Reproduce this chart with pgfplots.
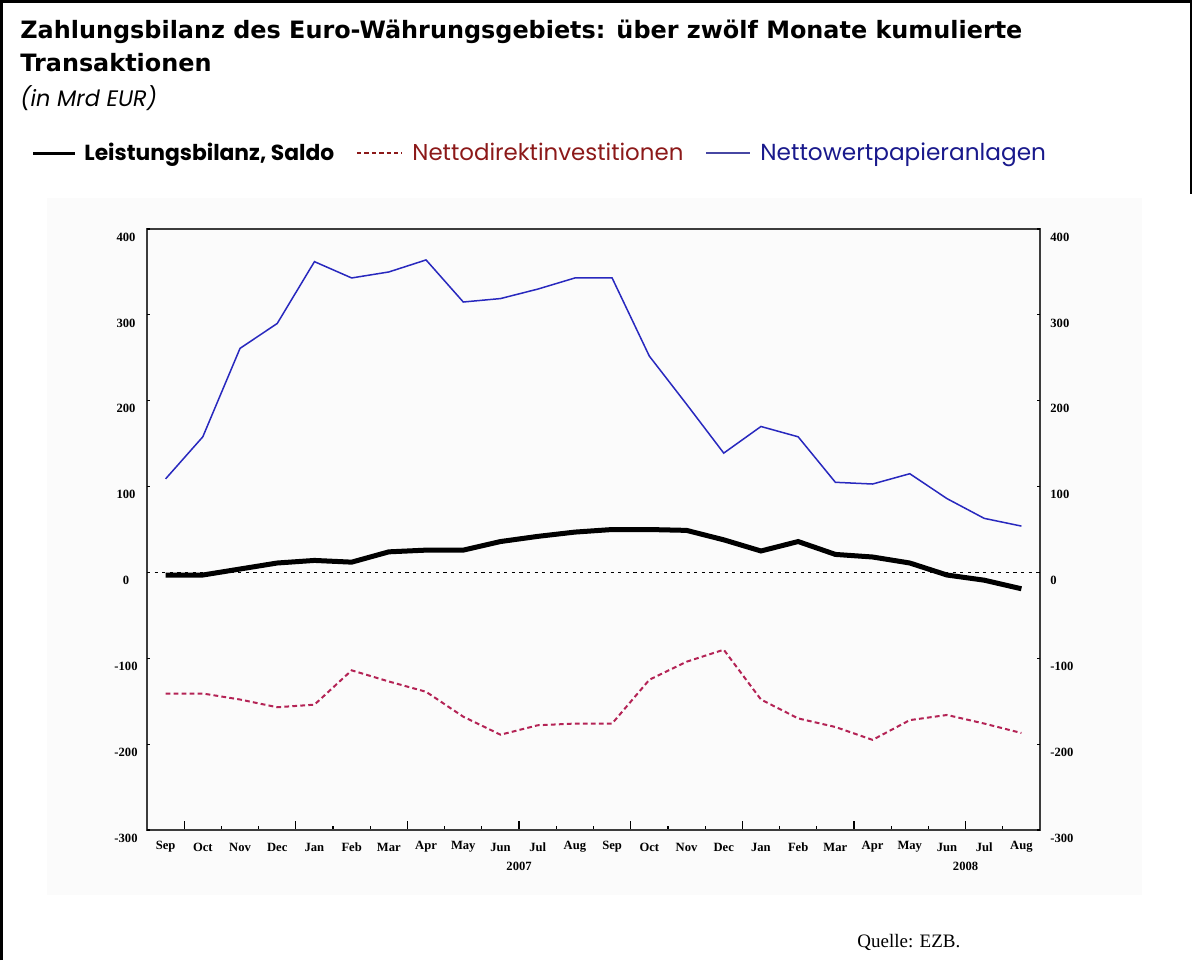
\documentclass[border=0pt]{standalone}
\usepackage{pgfplots}
\pgfplotsset{compat=1.18}
\usepackage{pgfplotstable}
\usepackage{fontspec}
\setmainfont{Liberation Serif}
\newfontfamily\titlefont{DejaVu Sans}
\newfontfamily\legfont{Poppins}

\definecolor{cablue}{RGB}{40,40,190}
\definecolor{cared}{RGB}{180,35,85}
\definecolor{legred}{RGB}{140,25,25}
\definecolor{legblue}{RGB}{25,25,140}
\definecolor{frame}{RGB}{60,60,60}
\definecolor{bgpanel}{RGB}{251,251,251}

\pgfplotstableread{
i blue black red
0 109 -3 -141
1 158 -3 -141
2 261 4 -148
3 290 11 -157
4 362 14 -154
5 343 12 -114
6 350 24 -127
7 364 26 -139
8 315 26 -168
9 319 36 -189
10 330 42 -178
11 343 47 -176
12 343 50 -176
13 252 50 -125
14 196 49 -104
15 139 38 -90
16 170 25 -148
17 158 36 -170
18 105 21 -180
19 103 18 -195
20 115 11 -172
21 86 -3 -166
22 63 -9 -176
23 54 -19 -187
}\datatable

\pgfplotsset{
  common/.style={
    at={(73.5pt,-415pt)}, anchor=south west,
    width=446.5pt, height=300.5pt, scale only axis,
    xmin=-0.5, xmax=23.5, ymin=-300, ymax=400,
  }
}

\begin{document}
\begin{tikzpicture}
\useasboundingbox (0,0) rectangle (596pt,-480pt);
% page frame
\draw[line width=1.5pt] (0.75pt,-480pt) -- (0.75pt,-0.75pt) -- (595.5pt,-0.75pt) -- (595.5pt,-97pt);
% panel background
\fill[bgpanel] (23.5pt,-99pt) rectangle (571pt,-447.5pt);

% title
\node[anchor=base west, inner sep=0, font=\titlefont\bfseries\fontsize{11.95}{14}\selectfont] at (10pt,-19pt) {Zahlungsbilanz des Euro-Währungsgebiets: über zwölf Monate kumulierte};
\node[anchor=base west, inner sep=0, font=\titlefont\bfseries\fontsize{11.95}{14}\selectfont] at (10pt,-35.5pt) {Transaktionen};
\node[anchor=base west, inner sep=0, font=\legfont\itshape\fontsize{11.2}{13}\selectfont] at (10pt,-53pt) {(in Mrd EUR)};

% legend
\draw[black, line width=1.5pt] (16.5pt,-76.5pt) -- (37.5pt,-76.5pt);
\node[anchor=base west, inner sep=0, font=\legfont\bfseries\fontsize{10.9}{13}\selectfont] at (42pt,-80pt) {Leistungsbilanz, Saldo};
\draw[legred, line width=0.6pt, dash pattern=on 2.2pt off 1.5pt] (178.5pt,-76.5pt) -- (201pt,-76.5pt);
\node[anchor=base west, inner sep=0, text=legred, font=\legfont\fontsize{11.45}{13}\selectfont] at (206pt,-80pt) {Nettodirektinvestitionen};
\draw[legblue!80!white, line width=1pt] (353pt,-76.5pt) -- (375pt,-76.5pt);
\node[anchor=base west, inner sep=0, text=legblue, font=\legfont\fontsize{11.6}{13}\selectfont] at (380pt,-80pt) {Nettowertpapieranlagen};

% main axis with data and x ticks
\begin{axis}[common,
  axis line style={frame, line width=0.75pt},
  xtick={0.5,3.5,...,21.5}, xticklabels={},
  minor xtick={1.5,2.5,4.5,5.5,7.5,8.5,10.5,11.5,13.5,14.5,16.5,17.5,19.5,20.5,22.5},
  ytick=\empty,
  xtick pos=bottom, tick align=inside,
  major tick length=4.5pt, minor tick length=2.2pt,
  tick style={black, line width=0.6pt},
  clip=false]
\addplot[black, line width=0.6pt, dash pattern=on 1.6pt off 2.2pt] coordinates {(-0.5,0) (23.5,0)};
\addplot[cared, line width=1pt, dash pattern=on 2.4pt off 1.6pt] table[x=i, y=red] {\datatable};
\addplot[cablue, line width=0.75pt] table[x=i, y=blue] {\datatable};
\addplot[black, line width=2.5pt] table[x=i, y=black] {\datatable};
\end{axis}

% y ticks + left labels
\begin{axis}[common,
  axis line style={draw=none},
  xtick=\empty,
  ytick={-300,-200,...,400},
  yticklabels={-300,-200,-100,0,100,200,300,400},
  ytick pos=both, yticklabel pos=left, tick align=inside,
  major tick length=1.5pt,
  tick style={black, line width=0.6pt},
  yticklabel style={anchor=center, xshift=-10.5pt, yshift=-4pt, font=\bfseries\fontsize{6.3}{7}\selectfont}]
\end{axis}

% right labels + month labels
\begin{axis}[common,
  axis line style={draw=none},
  xtick={0,...,23},
  xticklabels={Sep,Oct,Nov,Dec,Jan,Feb,Mar,Apr,May,Jun,Jul,Aug,Sep,Oct,Nov,Dec,Jan,Feb,Mar,Apr,May,Jun,Jul,Aug},
  ytick={-300,-200,...,400},
  yticklabels={-300,-200,-100,0,100,200,300,400},
  yticklabel pos=right,
  major tick length=0pt, tick style={draw=none},
  xticklabel style={anchor=center, yshift=-8.5pt, font=\bfseries\fontsize{6.3}{7}\selectfont},
  yticklabel style={anchor=west, inner sep=0pt, xshift=5pt, yshift=-4pt, font=\bfseries\fontsize{6.3}{7}\selectfont},
  clip=false]
\node[font=\bfseries\fontsize{6.3}{7}\selectfont] at (axis cs:9.5,-300) [yshift=-18pt] {2007};
\node[font=\bfseries\fontsize{6.3}{7}\selectfont] at (axis cs:21.5,-300) [yshift=-18pt] {2008};
\end{axis}

% source
\node[anchor=base west, inner sep=0, font=\fontsize{9.5}{11}\selectfont] at (428.5pt,-473.5pt) {Quelle: EZB.};
\end{tikzpicture}
\end{document}
